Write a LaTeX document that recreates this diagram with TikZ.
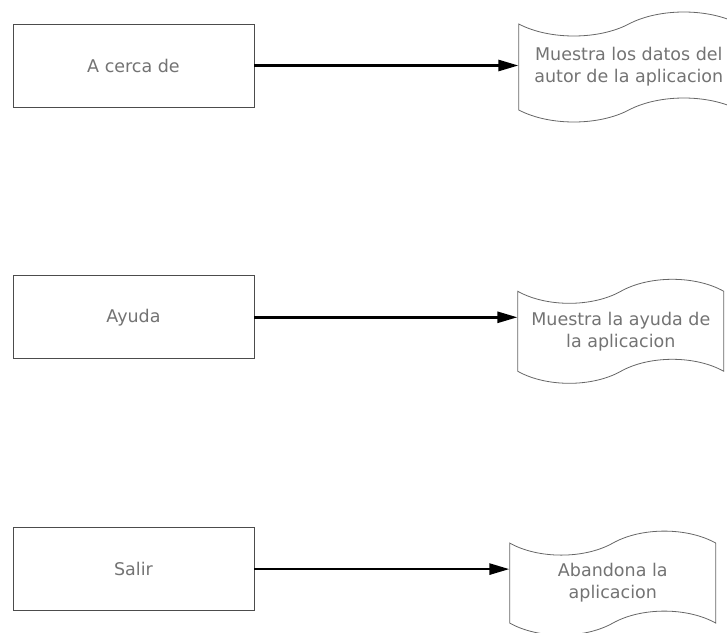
\documentclass[tikz,border=0pt]{standalone}
\usepackage{fontspec}
\setmainfont{DejaVu Sans}
\usetikzlibrary{positioning,shapes.symbols,arrows.meta}

\begin{document}
\begin{tikzpicture}[x=1pt,y=-1pt,
    menubox/.style={draw=black!70,line width=0.8pt,rectangle,minimum width=241pt,minimum height=83pt,inner sep=0pt,
                    text=black!55,font=\fontsize{17.5}{21}\selectfont},
    docshape/.style={draw=black!60,line width=0.8pt,tape,tape bend top=in and out,tape bend bottom=in and out,
                     tape bend height=24pt,minimum width=206pt,minimum height=104pt,inner sep=2pt,align=center,
                     text=black!55,font=\fontsize{17.5}{22}\selectfont},
    flow/.style={-{Triangle[length=20pt,width=11pt]},line width=2.6pt}]
    \useasboundingbox (0,0) rectangle (727,632);
    \node[menubox] (acerca) at (133.5,65.5) {A cerca de};
    \node[menubox] (ayuda) [below=168pt of acerca] {Ayuda};
    \node[menubox] (salir) [below=168pt of ayuda] {Salir};
    \node[docshape,minimum width=220pt,minimum height=110pt] (autor) [right=264pt of acerca,yshift=-1.5pt] {Muestra los datos del\\autor de la aplicacion};
    \node[docshape] (verayuda) [right=263pt of ayuda,yshift=-14pt] {Muestra la ayuda de\\la aplicacion};
    \node[docshape] (abandona) [right=255pt of salir,yshift=-14pt] {Abandona la\\aplicacion};
    \path (acerca.east) edge[flow] (acerca.east -| autor.west)
          (ayuda.east) edge[flow] (ayuda.east -| verayuda.west)
          (salir.east) edge[flow] (salir.east -| abandona.west);
\end{tikzpicture}
\end{document}
